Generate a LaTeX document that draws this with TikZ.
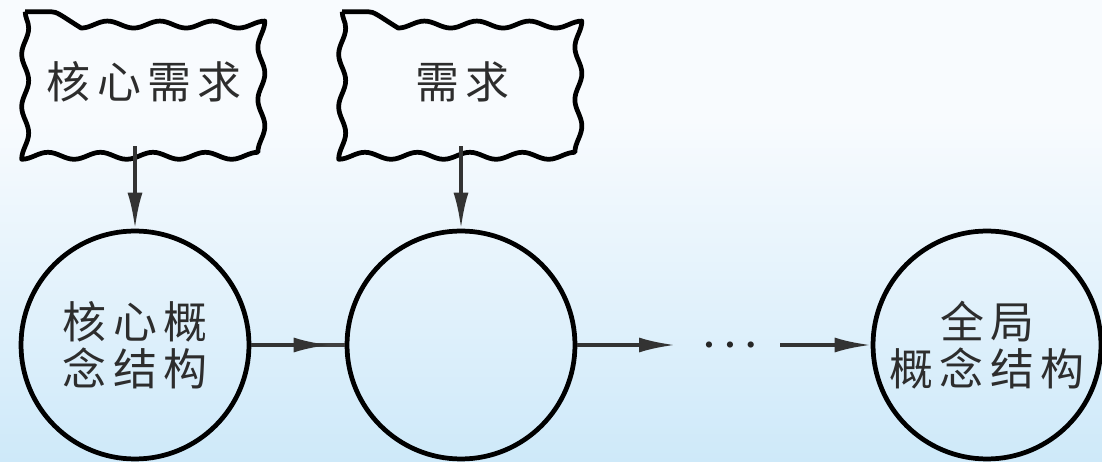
\documentclass[tikz,border=0pt]{standalone}
\usepackage{fontspec}
\newfontfamily\cjk[LetterSpace=14]{Noto Sans CJK SC}
\usetikzlibrary{decorations.pathmorphing,arrows.meta}
\definecolor{bgtop}{RGB}{248,251,254}
\definecolor{bgbot}{RGB}{206,233,249}
\definecolor{txt}{RGB}{45,45,45}
\tikzset{
  cloudbox/.style={minimum width=4.7cm, minimum height=2.68cm, inner sep=0pt},
  wavy/.style={line width=2.7pt, line join=round, decorate, decoration={snake, segment length=1.05cm, amplitude=0.07cm}},
  concept/.style={circle, draw, line width=2.7pt, minimum size=4.56cm, inner sep=0pt, align=center},
  lbl/.style={font=\cjk\fontsize{25}{27}\selectfont, text=txt},
  flow/.style={line width=2pt, draw=black!75},
  tip/.style={-{Latex[length=0.72cm,width=0.3cm]}, line width=2pt, draw=black!80}
}
\begin{document}
\begin{tikzpicture}[x=0.02cm,y=-0.02cm]
\useasboundingbox (0,0) rectangle (1102,462);
\fill[bgtop] (0,0) rectangle (1102,120);
\shade[top color=bgtop, bottom color=bgbot] (0,119) rectangle (1102,462);
% cloud boxes
\node[cloudbox] (b1) at (143,79) {};
\node[cloudbox] (b2) at (460,79) {};
\draw[wavy] (b1.north west) rectangle (b1.south east);
\draw[wavy] (b2.north west) rectangle (b2.south east);
\node[lbl] (t1) at (144,82) {核心需求};
\node[lbl] (t2) at (462,82) {需求};
% circles
\node[concept, lbl] (c1) at (135,345) {核心概\\念结构};
\node[concept] (c2) at (461,345) {};
\node[concept, lbl] (c3) at (987,345) {全局\\概念结构};
\node[text=black!85] (dots) at (730,346) {\fontsize{13}{14}\selectfont\textbullet\hspace{2pt}\textbullet\hspace{2pt}\textbullet};
\coordinate (a2end) at (675,345);
\coordinate (a3start) at (780,345);
% vertical arrows
\draw[tip] (c1.north |- b1.south) -- (c1.north);
\draw[tip] (c2.north |- b2.south) -- (c2.north);
% horizontal arrows
\draw[flow] (c1.east) -- (c2.west);
\draw[tip, shorten >=0.3cm] (c1.east) -- (c2.west);
\draw[tip] (c2.east) -- (a2end);
\draw[tip] (a3start) -- (c3.west);
\end{tikzpicture}
\end{document}
